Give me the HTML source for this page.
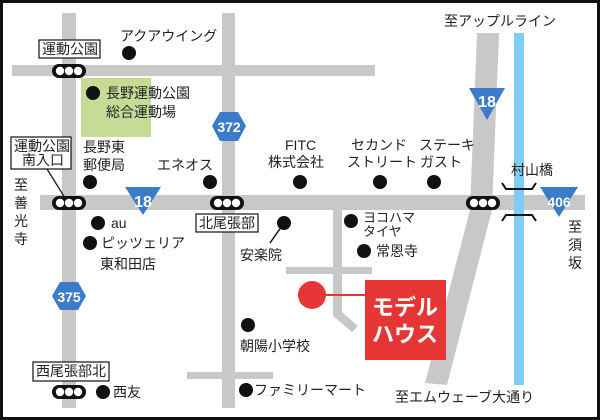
<!DOCTYPE html>
<html><head><meta charset="utf-8"><style>
html,body{margin:0;padding:0;background:#fff}
svg{display:block}
text{font-family:"Liberation Sans","Noto Sans CJK JP",sans-serif;font-size:14px;fill:#222}
.s{fill:#fff;font-weight:bold;font-family:"Liberation Sans Narrow","Liberation Sans",sans-serif}
</style></head><body>
<svg width="600" height="420" viewBox="0 0 600 420" xmlns="http://www.w3.org/2000/svg">
<rect x="1.5" y="1.5" width="597" height="417" fill="#fff" stroke="#111" stroke-width="3"/>
<rect x="81" y="78" width="70" height="59" fill="#c6dc96"/>
<g fill="#c8c8c8">
<rect x="62" y="13" width="14" height="395"/>
<rect x="222" y="13" width="13" height="395"/>
<rect x="12" y="65" width="363" height="11"/>
<rect x="40" y="195" width="545" height="15"/>
<polygon points="477,33 499,33 492,210 447,385 425,383 470,210"/>
<rect x="286" y="267" width="86" height="7"/>
<polygon points="333,210 342,210 342,312 358,326 352,332 333,316"/>
<rect x="187" y="372" width="86" height="7"/>
</g>
<rect x="514" y="33" width="10" height="352" fill="#7fcdf5"/>
<path d="M502,183 l4,6 h26 l4,-6 M502,221 l4,-6 h26 l4,6" fill="none" stroke="#111" stroke-width="2"/>
<g id="tl">
<rect x="52" y="64" width="34" height="14" rx="7" fill="#111"/>
<circle cx="60" cy="71" r="4.2" fill="#fff"/><circle cx="69" cy="71" r="4.2" fill="#fff"/><circle cx="78" cy="71" r="4.2" fill="#fff"/>
</g>
<use href="#tl" y="132"/>
<use href="#tl" x="158" y="132"/>
<use href="#tl" x="414" y="132"/>
<use href="#tl" y="321"/>
<polygon points="125,187 161,187 143,215" fill="#3b7cc9"/>
<text x="143" y="207" text-anchor="middle" class="s" style="font-size:16px">18</text>
<polygon points="469,88 505,88 487,120" fill="#3b7cc9"/>
<text x="487" y="107" text-anchor="middle" class="s" style="font-size:16px">18</text>
<polygon points="540,187 578,187 559,217" fill="#3b7cc9"/>
<text x="559" y="207" text-anchor="middle" class="s" style="font-size:14px">406</text>
<polygon points="220,112 238,112 246,126 238,141 220,141 212,126" fill="#3b7cc9"/>
<text x="229" y="132" text-anchor="middle" class="s" style="font-size:14px">372</text>
<polygon points="60,282 78,282 86,296 78,310 60,310 52,296" fill="#3b7cc9"/>
<text x="69" y="302" text-anchor="middle" class="s" style="font-size:14px">375</text>
<g fill="#fff" stroke="#111" stroke-width="1.2">
<rect x="39" y="40" width="61" height="18"/>
<rect x="11" y="137" width="60" height="32"/>
<rect x="196" y="214" width="62" height="18"/>
<rect x="33" y="362" width="76" height="19"/>
</g>
<line x1="47" y1="169" x2="65" y2="198" stroke="#111" stroke-width="1.2"/>
<text x="42" y="54">運動公園</text>
<text x="14" y="151">運動公園</text>
<text x="22" y="165">南入口</text>
<text x="199" y="228">北尾張部</text>
<text x="36" y="376">西尾張部北</text>
<g fill="#111">
<circle cx="129" cy="53" r="7"/><circle cx="93" cy="93" r="7"/>
<circle cx="90" cy="182" r="7"/><circle cx="210" cy="182" r="7"/>
<circle cx="300" cy="182" r="7"/><circle cx="380" cy="182" r="7"/>
<circle cx="434" cy="182" r="7"/><circle cx="98" cy="223" r="7"/>
<circle cx="90" cy="243" r="7"/><circle cx="284" cy="223" r="7"/>
<circle cx="351" cy="221" r="7"/><circle cx="364" cy="251" r="7"/>
<circle cx="248" cy="325" r="7"/><circle cx="103" cy="392" r="7"/>
<circle cx="246" cy="390" r="7"/>
</g>
<line x1="284" y1="223" x2="270" y2="243" stroke="#111" stroke-width="1.5"/>
<line x1="312" y1="295" x2="366" y2="295" stroke="#e53535" stroke-width="2"/>
<circle cx="312" cy="295" r="14" fill="#e53535"/>
<rect x="365" y="280" width="81" height="80" fill="#e53535"/>
<text x="405" y="315" text-anchor="middle" style="fill:#fff;font-size:22px;font-weight:bold">モデル</text>
<text x="405" y="342" text-anchor="middle" style="fill:#fff;font-size:22px;font-weight:bold">ハウス</text>
<text x="120" y="41">アクアウイング</text>
<text x="106" y="98">長野運動公園</text>
<text x="106" y="117">総合運動場</text>
<text x="83" y="152">長野東</text>
<text x="83" y="170">郵便局</text>
<text x="157" y="170">エネオス</text>
<text x="285" y="150">FITC</text>
<text x="268" y="167">株式会社</text>
<text x="351" y="150">セカンド</text>
<text x="347" y="167">ストリート</text>
<text x="419" y="150">ステーキ</text>
<text x="420" y="167">ガスト</text>
<text x="444" y="26">至アップルライン</text>
<text x="511" y="175">村山橋</text>
<text x="111" y="228">au</text>
<text x="101" y="248">ピッツェリア</text>
<text x="100" y="269">東和田店</text>
<text x="240" y="260">安楽院</text>
<text x="363" y="222" style="font-size:13px">ヨコハマ</text>
<text x="363" y="236" style="font-size:13px">タイヤ</text>
<text x="376" y="256">常恩寺</text>
<text x="240" y="351">朝陽小学校</text>
<text x="113" y="397">西友</text>
<text x="254" y="395">ファミリーマート</text>
<text x="395" y="402">至エムウェーブ大通り</text>
<text x="14" y="190">至</text><text x="14" y="208">善</text><text x="14" y="226">光</text><text x="14" y="244">寺</text>
<text x="568" y="232">至</text><text x="568" y="250">須</text><text x="568" y="268">坂</text>
</svg>
</body></html>
